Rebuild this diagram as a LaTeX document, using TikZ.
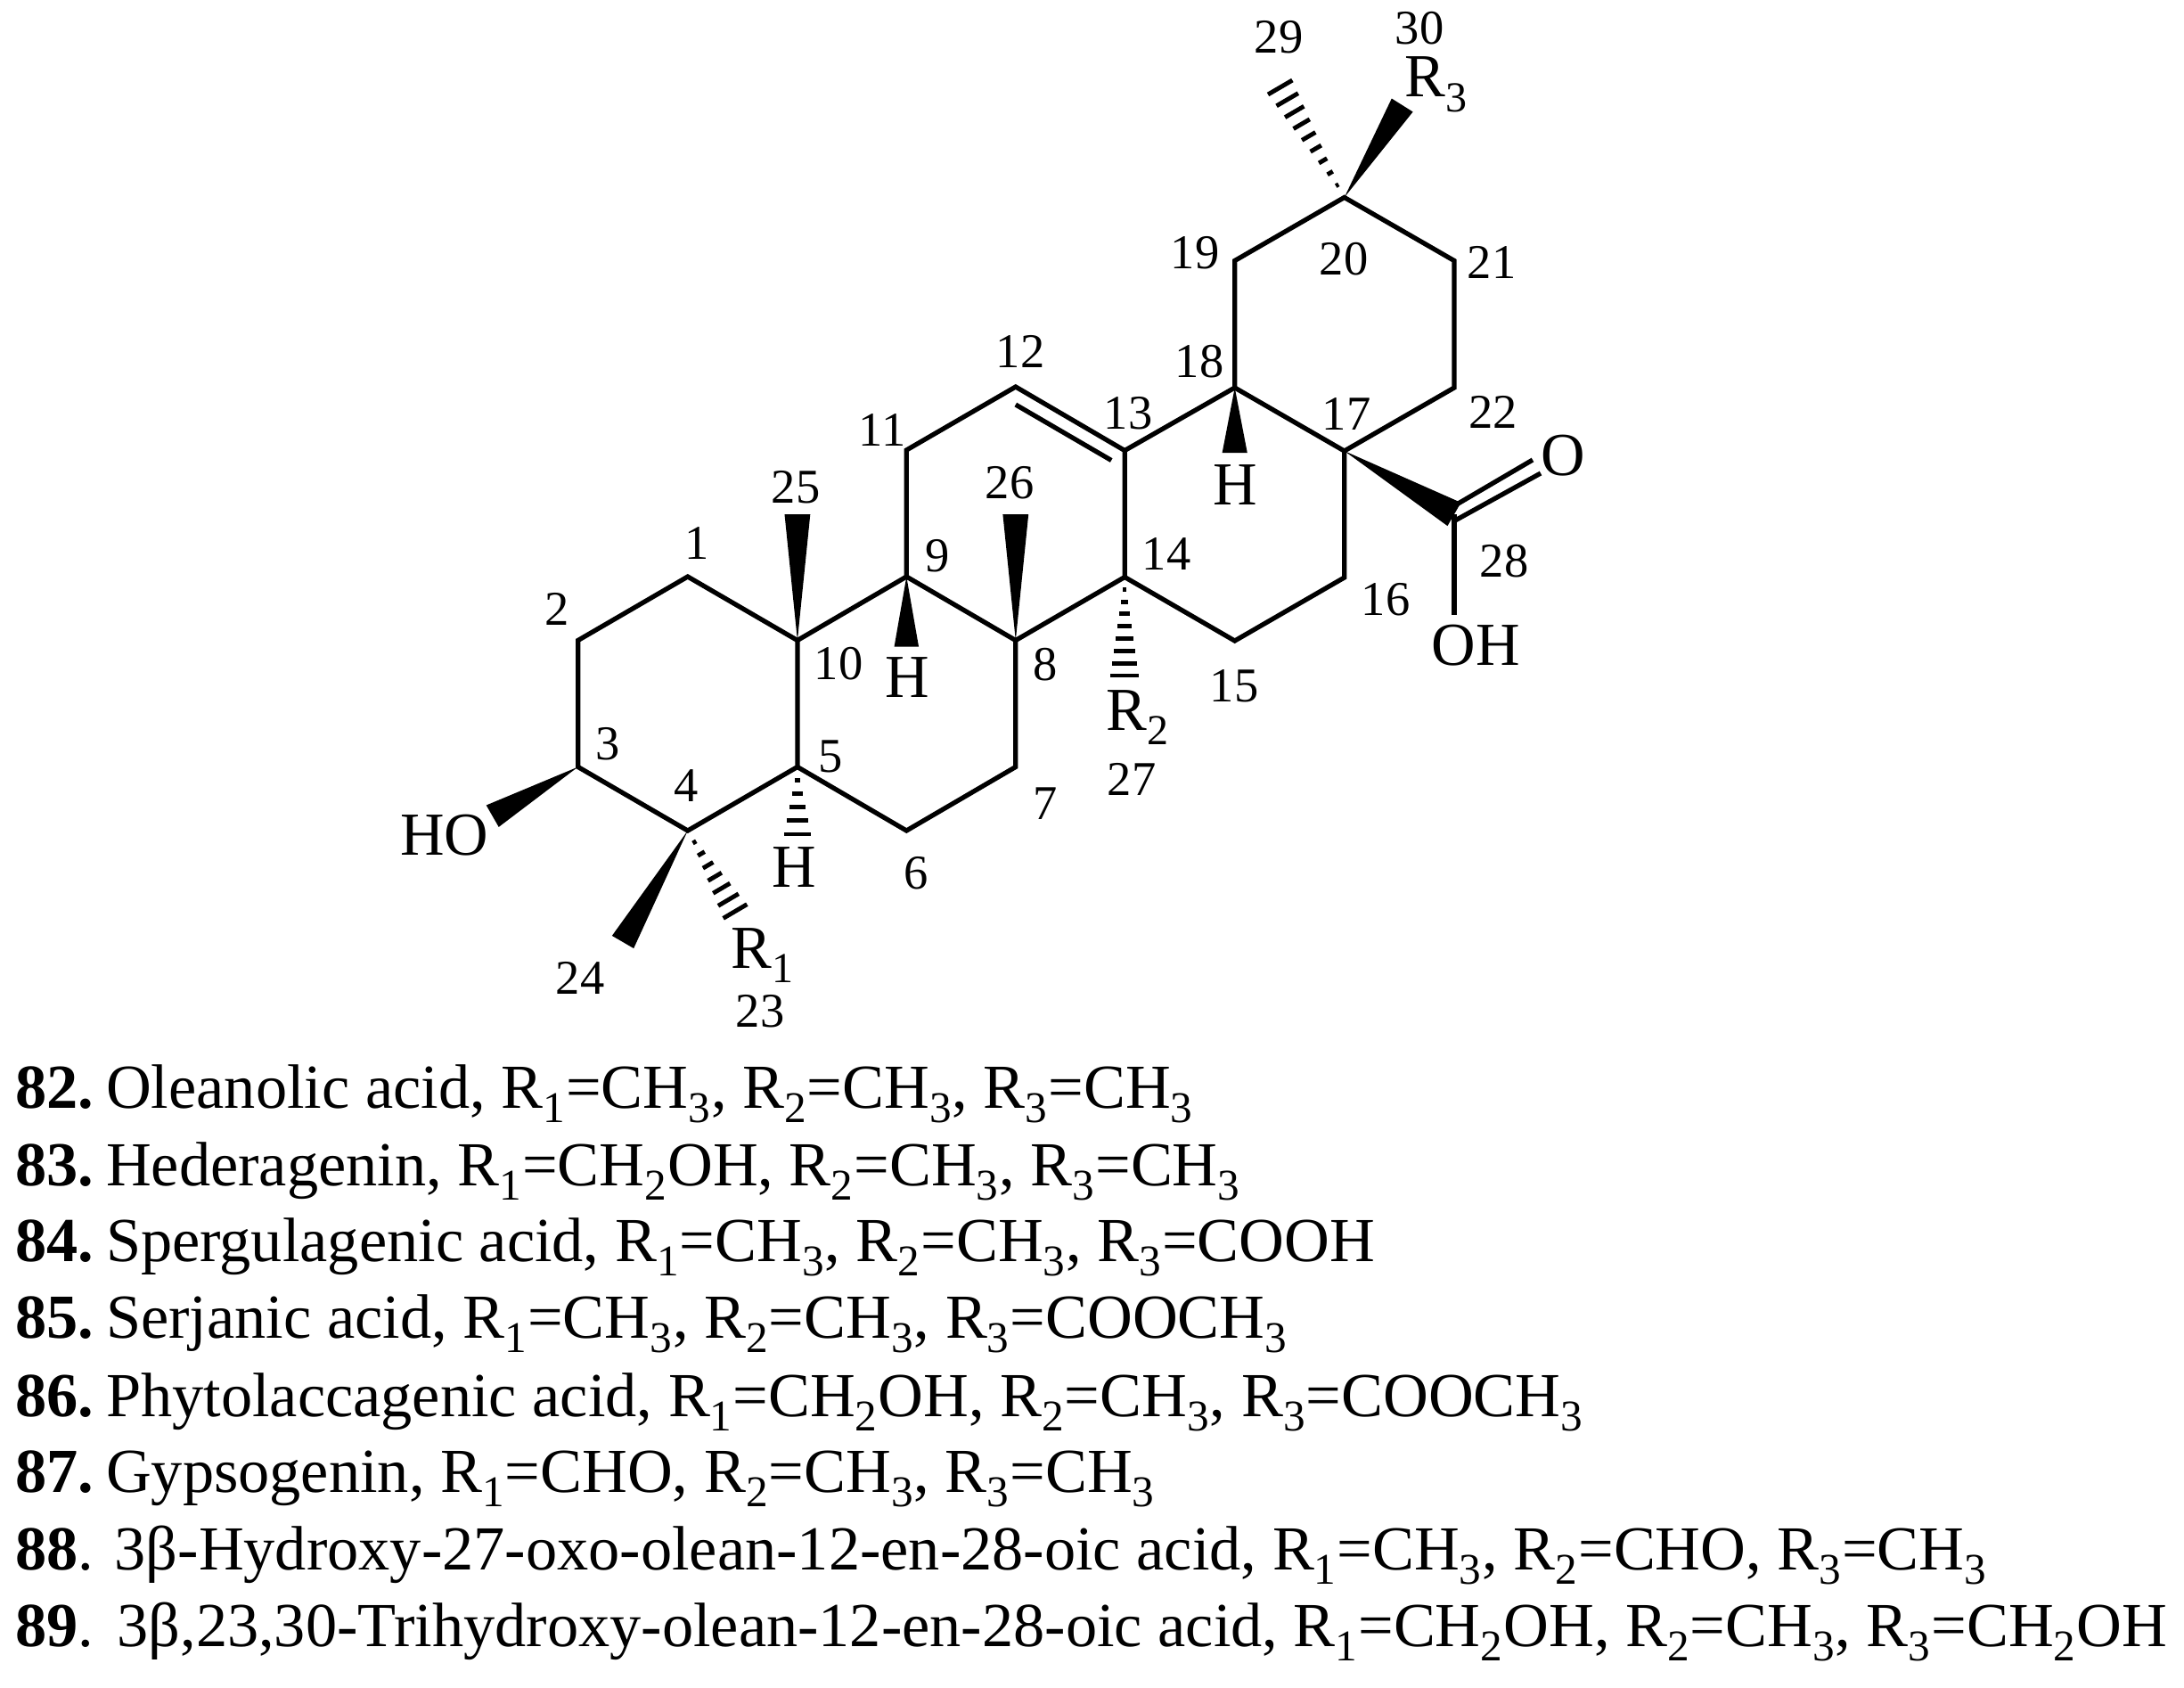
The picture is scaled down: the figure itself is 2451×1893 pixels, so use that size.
\documentclass[tikz,border=0pt]{standalone}
\usepackage{fontspec}
\setmainfont{Liberation Serif}
\usetikzlibrary{calc}

\newcommand{\wedgebond}[3]{\fill (#1) -- ($(#2)!#3pt!90:(#1)$) -- ($(#2)!#3pt!-90:(#1)$) -- cycle;}
\newcommand{\hashbond}[4]{%
    \foreach \i [evaluate=\i as \t using \i/#3, evaluate=\i as \w using #4*\i/#3] in {1,...,#3}
        \draw[hash] ($(#1)!\t!(#2)!\w pt!90:(#1)$) -- ($(#1)!\t!(#2)!\w pt!-90:(#1)$);%
}
\newcommand{\lowsub}[1]{\raisebox{-0.24em}{\scalebox{0.7}{#1}}\kern0.3pt}
\newcommand{\Rg}[1]{R\lowsub{#1}}
\newcommand{\chm}{CH\lowsub{3}}
\newcommand{\chol}{CH\lowsub{2}OH}

\begin{document}
\begin{tikzpicture}[
        x=0.01cm, y=-0.01cm,
        bond/.style={line width=1.5pt},
        hash/.style={line width=1.4pt},
        num/.style={font=\fontsize{15.5}{18}\selectfont, inner sep=0pt},
        atom/.style={font=\fontsize{19.5}{22}\selectfont, inner sep=0pt},
        entry/.style={font=\fontsize{20}{24}\selectfont, inner sep=0pt, anchor=base west}
    ]
        \useasboundingbox (0,0) rectangle (2451,1893);
        % ring atoms
        \foreach \name/\px/\py in {c1/771.8/647, c2/648.7/718.5, c3/648.7/860.5, c4/771.8/932, c5/894.9/860.5,
                c6/1017.3/932, c7/1139.8/860.5, c8/1139.8/718.5, c9/1017.3/647, c10/894.9/718.5,
                c11/1017.3/505, c12/1139.8/434, c13/1262.2/505.5, c14/1262.2/647.5, c15/1385.7/719,
                c16/1508.7/648, c17/1508.7/506, c18/1385.7/435, c19/1385.7/292.5, c20/1508.7/221.5,
                c21/1632/292.5, c22/1632/435, c28/1632/577}
            \coordinate (\name) at (\px,\py);
        % bond ends
        \foreach \name/\px/\py in {t25/894.9/577, t26/1139.8/577, th9/1017.3/725.5, th18/1385.7/508,
                tho/552.7/915.7, t24/699/1057, tr3/1573.7/118, tr1/825/1022.5, th5/894.9/936,
                tr2/1262.2/758, t29/1436.7/98, toh/1632/690}
            \coordinate (\name) at (\px,\py);

        \draw[bond] (c1) -- (c2) -- (c3) -- (c4) -- (c5) -- (c10) -- cycle;
        \draw[bond] (c5) -- (c6) -- (c7) -- (c8) -- (c9) -- (c10);
        \draw[bond] (c9) -- (c11) -- (c12) -- (c13) -- (c14) -- (c8);
        \draw[bond] (c14) -- (c15) -- (c16) -- (c17) -- (c18) -- (c13);
        \draw[bond] (c18) -- (c19) -- (c20) -- (c21) -- (c22) -- (c17);
        \draw[bond] ($(c12)+(0,20)$) -- ($(c13)+(-15,11)$);
        \draw[bond] (c28) -- (toh);

        \wedgebond{c10}{t25}{4.1}
        \wedgebond{c8}{t26}{4.1}
        \wedgebond{c9}{th9}{3.9}
        \wedgebond{c18}{th18}{4}
        \wedgebond{c3}{tho}{4}
        \wedgebond{c4}{t24}{4}
        \wedgebond{c20}{tr3}{4}
        \wedgebond{c17}{c28}{4.3}
        \hashbond{c4}{tr1}{7}{4.4}
        \hashbond{c5}{th5}{5}{4.3}
        \hashbond{c14}{tr2}{8}{4.5}
        \hashbond{c20}{t29}{9}{4.5}

        % atom labels
        \node[atom] (ho) at (499,937) {HO};
        \node[atom] (h9) at (1018,760) {H};
        \node[atom] (h5) at (891,973) {H};
        \node[atom] (h18) at (1386.5,544) {H};
        \node[atom] (r1) at (856,1072) {\Rg{1}};
        \node[atom] (r2) at (1277,805) {\Rg{2}};
        \node[atom] (r3) at (1612,95) {\Rg{3}};
        \node[atom] (oxo) at (1754,511) {O};
        \node[atom] (oh) at (1656,724) {OH};
        \draw[bond] ($(c28)+(1,-10)$) -- ($(oxo.center)+(-34,5)$);
        \draw[bond] ($(c28)+(1,7)$) -- ($(oxo.center)+(-25,20)$);

        % carbon numbers
        \foreach \num/\px/\py in {1/782/609, 2/625/683, 3/682/835, 4/770/882, 5/932.5/849, 6/1028/980,
                7/1173.6/902, 8/1173.6/746, 9/1052/624, 10/941/745, 11/990/482, 12/1145/394, 13/1266/464,
                14/1309/621, 15/1385/770, 16/1555/673, 17/1511/464, 18/1346/406, 19/1341/284,
                20/1508/291, 21/1674/294, 22/1675.5/462, 23/853/1135, 24/651/1097, 25/893/547,
                26/1133/542, 27/1270/874, 28/1688/630, 29/1435/42, 30/1593/32}
            \node[num] (n\num) at (\px,\py) {\num};

        % compound list
        \node[entry] (e82) at (16.6,1243) {\textbf{82.}\hspace{-2.7pt} Oleanolic acid, \Rg{1}=\chm, \Rg{2}=\chm, \Rg{3}=\chm};
        \node[entry] (e83) at (16.6,1330) {\textbf{83.}\hspace{-2.7pt} Hederagenin, \Rg{1}=\chol, \Rg{2}=\chm, \Rg{3}=\chm};
        \node[entry] (e84) at (16.6,1415) {\textbf{84.}\hspace{-2.7pt} Spergulagenic acid, \Rg{1}=\chm, \Rg{2}=\chm, \Rg{3}=COOH};
        \node[entry] (e85) at (16.6,1501) {\textbf{85.}\hspace{-2.7pt} Serjanic acid, \Rg{1}=\chm, \Rg{2}=\chm, \Rg{3}=COO\chm};
        \node[entry] (e86) at (16.6,1589) {\textbf{86.}\hspace{-2.7pt} Phytolaccagenic acid, \Rg{1}=\chol, \Rg{2}=\chm, \Rg{3}=COO\chm};
        \node[entry] (e87) at (16.6,1674) {\textbf{87.}\hspace{-2.7pt} Gypsogenin, \Rg{1}=CHO, \Rg{2}=\chm, \Rg{3}=\chm};
        \node[entry] (e88) at (16.6,1761) {\textbf{88}. 3β-Hydroxy-27-oxo-olean-12-en-28-oic acid, \Rg{1}=\chm, \Rg{2}=CHO, \Rg{3}=\chm};
        \node[entry] (e89) at (16.6,1847) {\textbf{89}.\hspace{0.8pt} 3β,23,30-Trihydroxy-olean-12-en-28-oic acid, \Rg{1}=\chol, \Rg{2}=\chm, \Rg{3}=CH\lowsub{2}OH};
    \end{tikzpicture}
\end{document}
